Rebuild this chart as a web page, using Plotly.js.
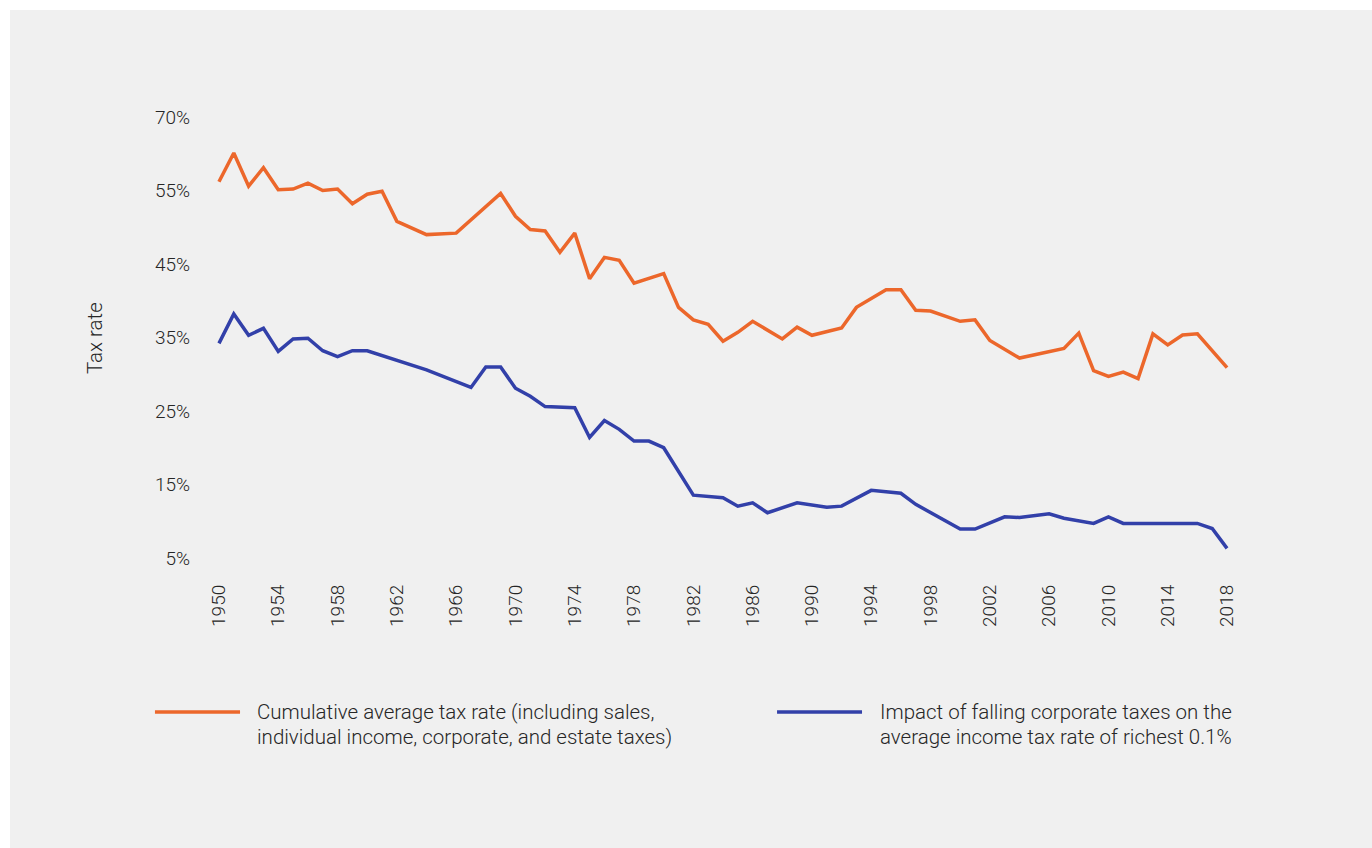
<!DOCTYPE html>
<html>
<head>
<meta charset="utf-8">
<script src="https://cdn.plot.ly/plotly-3.0.1.min.js"></script>
<style>
  html, body { margin: 0; padding: 0; background: #ffffff; }
  #chart { position: absolute; left: 10px; top: 10px; width: 1362px; height: 838px; }
</style>
</head>
<body>
<div id="chart"></div>
<script>
// ---- Data ----
const orangeYears = [1950,1951,1952,1953,1954,1955,1956,1957,1958,1959,1960,1961,1962,1964,1966,1969,1970,1971,1972,1973,1974,1975,1976,1977,1978,1980,1981,1982,1983,1984,1985,1986,1988,1989,1990,1992,1993,1995,1996,1997,1998,2000,2001,2002,2004,2007,2008,2009,2010,2011,2012,2013,2014,2015,2016,2018];
const orangeValues = [56.2,60.1,55.6,58.1,55.1,55.2,56.0,55.0,55.2,53.2,54.5,54.9,50.8,49.0,49.2,54.6,51.5,49.7,49.5,46.6,49.2,43.0,45.9,45.5,42.4,43.7,39.1,37.4,36.8,34.5,35.7,37.2,34.8,36.4,35.3,36.3,39.1,41.5,41.5,38.7,38.6,37.2,37.4,34.6,32.2,33.5,35.6,30.5,29.7,30.3,29.4,35.5,34.0,35.35,35.5,30.9];

const blueYears = [1950,1951,1952,1953,1954,1955,1956,1957,1958,1959,1960,1964,1967,1968,1969,1970,1971,1972,1974,1975,1976,1977,1978,1979,1980,1982,1984,1985,1986,1987,1989,1991,1992,1994,1996,1997,2000,2001,2003,2004,2006,2007,2009,2010,2011,2016,2017,2018];
const blueValues = [34.2,38.2,35.3,36.25,33.1,34.8,34.9,33.2,32.4,33.2,33.2,30.6,28.2,31.0,31.0,28.1,27.0,25.6,25.45,21.4,23.7,22.5,20.9,20.9,20.0,13.55,13.2,12.05,12.5,11.15,12.5,11.9,12.05,14.2,13.8,12.3,8.93,8.93,10.6,10.5,11.0,10.4,9.7,10.6,9.7,9.7,9.0,6.3];

const xTickVals = [1950,1954,1958,1962,1966,1970,1974,1978,1982,1986,1990,1994,1998,2002,2006,2010,2014,2018];
const yTickVals = [5,15,25,35,45,55,65];
const yTickText = ["5%","15%","25%","35%","45%","55%","70%"];

const orangeName = ["Cumulative average tax rate (including sales,", "individual income, corporate, and estate taxes)"];
const blueName = ["Impact of falling corporate taxes on the", "average income tax rate of richest 0.1%"];
const yTitle = "Tax rate";

// ---- Styling ----
const ORANGE = "#ec672b";
const BLUE = "#3240a9";
const TEXT = "#262626";
const FONT = "Roboto, 'Noto Sans', sans-serif";

const traces = [
  { x: orangeYears, y: orangeValues, type: "scatter", mode: "lines",
    line: { color: ORANGE, width: 3.5 }, name: orangeName.join(" "), hoverinfo: "x+y" },
  { x: blueYears, y: blueValues, type: "scatter", mode: "lines",
    line: { color: BLUE, width: 3.5 }, name: blueName.join(" "), hoverinfo: "x+y" }
];

function legendEntry(color, x0, x1, tx, lines) {
  const shapes = [{ type: "line", xref: "paper", yref: "paper", x0: x0, x1: x1, y0: -0.2722, y1: -0.2722,
                    line: { color: color, width: 3.5 } }];
  const anns = lines.map((t, i) => ({
    xref: "paper", yref: "paper", x: tx, y: i === 0 ? -0.2722 : -0.3237,
    xanchor: "left", yanchor: "middle", showarrow: false, text: t,
    font: { family: FONT, size: 20.5, color: TEXT, weight: 300 }
  }));
  return { shapes, anns };
}
const le1 = legendEntry(ORANGE, -0.0602, 0.0237, 0.0384, orangeName);
const le2 = legendEntry(BLUE, 0.5533, 0.6371, 0.6528, blueName);

const layout = {
  width: 1362, height: 838,
  margin: { l: 206, r: 142, t: 85, b: 268 },
  paper_bgcolor: "#f0f0f0",
  plot_bgcolor: "#f0f0f0",
  showlegend: false,
  font: { family: FONT, color: TEXT, size: 19, weight: 300 },
  xaxis: {
    range: [1949.8, 2018.2], tickvals: xTickVals, tickangle: -90,
    showgrid: false, zeroline: false, showline: false, ticks: "",
    tickfont: { family: FONT, size: 19, color: TEXT, weight: 300 }, fixedrange: true
  },
  yaxis: {
    range: [2, 68], tickvals: yTickVals, ticktext: yTickText,
    showgrid: false, zeroline: false, showline: false, ticks: "",
    ticklabelstandoff: 25,
    tickfont: { family: FONT, size: 19, color: TEXT, weight: 300 }, fixedrange: true
  },
  shapes: [...le1.shapes, ...le2.shapes],
  annotations: [
    { xref: "paper", yref: "paper", x: -0.1193, y: 0.499, textangle: -90,
      xanchor: "center", yanchor: "middle", showarrow: false, text: yTitle,
      font: { family: FONT, size: 20.5, color: TEXT, weight: 300 } },
    ...le1.anns, ...le2.anns
  ]
};

Plotly.newPlot("chart", traces, layout, { displayModeBar: false, staticPlot: true });
</script>
</body>
</html>
